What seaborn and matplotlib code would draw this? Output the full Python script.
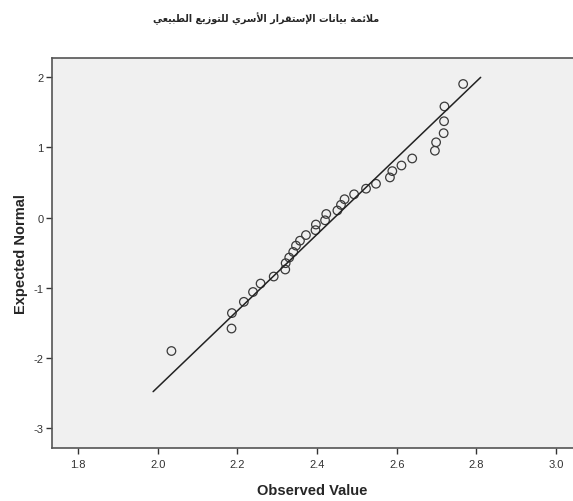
# Normal Q-Q plot - family stability data (SPSS style)

import numpy as np
import pandas as pd
import matplotlib
matplotlib.use('Agg')
import matplotlib.pyplot as plt
import seaborn as sns

# ------ DATA ------

title_text = 'ملائمة بيانات الإستقرار الأسري للتوزيع الطبيعي'

observed = [2.034, 2.185, 2.186, 2.216, 2.239, 2.258, 2.291, 2.320, 2.321,
            2.330, 2.340, 2.347, 2.357, 2.372, 2.396, 2.397, 2.420, 2.423,
            2.451, 2.460, 2.469, 2.493, 2.523, 2.548, 2.583, 2.589, 2.612,
            2.639, 2.696, 2.699, 2.718, 2.719, 2.720, 2.767]
expected = [-1.90, -1.58, -1.36, -1.20, -1.06, -0.94, -0.84, -0.74, -0.65,
            -0.57, -0.49, -0.40, -0.33, -0.25, -0.18, -0.10, -0.04, 0.05,
            0.10, 0.18, 0.26, 0.33, 0.41, 0.48, 0.57, 0.66, 0.74,
            0.84, 0.95, 1.07, 1.20, 1.37, 1.58, 1.90]

# reference line: normal with fitted mean / sd
line_mean = 2.444
line_sd = 0.184
line_x = [1.988, 2.811]

x_ticks = [1.8, 2.0, 2.2, 2.4, 2.6, 2.8, 3.0]
y_ticks = [-3, -2, -1, 0, 1, 2]


# ------ ARABIC SHAPING (matplotlib has no shaping / bidi) ------

FORMS = {
    'ا': (0xFE8D, 0xFE8E, None, None),
    'أ': (0xFE83, 0xFE84, None, None),
    'إ': (0xFE87, 0xFE88, None, None),
    'ب': (0xFE8F, 0xFE90, 0xFE91, 0xFE92),
    'ة': (0xFE93, 0xFE94, None, None),
    'ت': (0xFE95, 0xFE96, 0xFE97, 0xFE98),
    'ئ': (0xFE89, 0xFE8A, 0xFE8B, 0xFE8C),
    'ر': (0xFEAD, 0xFEAE, None, None),
    'ز': (0xFEAF, 0xFEB0, None, None),
    'س': (0xFEB1, 0xFEB2, 0xFEB3, 0xFEB4),
    'ط': (0xFEC1, 0xFEC2, 0xFEC3, 0xFEC4),
    'ع': (0xFEC9, 0xFECA, 0xFECB, 0xFECC),
    'ق': (0xFED5, 0xFED6, 0xFED7, 0xFED8),
    'ل': (0xFEDD, 0xFEDE, 0xFEDF, 0xFEE0),
    'م': (0xFEE1, 0xFEE2, 0xFEE3, 0xFEE4),
    'ن': (0xFEE5, 0xFEE6, 0xFEE7, 0xFEE8),
    'و': (0xFEED, 0xFEEE, None, None),
    'ي': (0xFEF1, 0xFEF2, 0xFEF3, 0xFEF4),
    'لا': (0xFEFB, 0xFEFC, None, None),
    'لأ': (0xFEF7, 0xFEF8, None, None),
    'لإ': (0xFEF9, 0xFEFA, None, None),
}


def shape_arabic(text):
    words = []
    for word in text.split(' '):
        units = []
        i = 0
        while i < len(word):
            if word[i] == 'ل' and i + 1 < len(word) and word[i:i + 2] in FORMS:
                units.append(word[i:i + 2])
                i += 2
            else:
                units.append(word[i])
                i += 1
        glyphs = []
        for k, u in enumerate(units):
            iso, fin, ini, med = FORMS[u]
            prev_j = k > 0 and FORMS[units[k - 1]][2] is not None
            next_j = k < len(units) - 1 and ini is not None
            if prev_j and next_j:
                g = med
            elif prev_j:
                g = fin
            elif next_j:
                g = ini
            else:
                g = iso
            glyphs.append(chr(g))
        words.append(''.join(reversed(glyphs)))
    return ' '.join(reversed(words))


# ------ PLOT ------

sns.set_style('ticks', {'axes.facecolor': '#F0F0F0'})
plt.rcParams['font.family'] = ['Liberation Sans', 'DejaVu Sans']

df = pd.DataFrame({'Observed Value': observed, 'Expected Normal': expected})
line_df = pd.DataFrame({'x': line_x})
line_df['y'] = (line_df['x'] - line_mean) / line_sd

fig = plt.figure(figsize=(5.73, 5.02), dpi=100)
ax = fig.add_axes([0.0908, 0.1056, 0.9092, 0.7769])

sns.lineplot(x='x', y='y', data=line_df, color='#222222', linewidth=1.1, ax=ax)
sns.scatterplot(x='Observed Value', y='Expected Normal', data=df, marker='o',
                s=38, facecolors='none', edgecolor='#3a3a3a', linewidth=0.9, ax=ax)

ax.set_xlim(1.734, 3.043)
ax.set_ylim(-3.28, 2.27)
ax.set_xticks(x_ticks)
ax.set_xticklabels([f'{v:.1f}' for v in x_ticks])
ax.set_yticks(y_ticks)
ax.set_yticklabels([str(v) for v in y_ticks])
ax.tick_params(axis='both', direction='out', length=4, width=1, color='#333333',
               labelsize=8, labelcolor='#333333', pad=2)
ax.tick_params(axis='x', pad=4)

for side in ['left', 'bottom', 'top']:
    ax.spines[side].set_color('#555555')
    ax.spines[side].set_linewidth(1.2)
ax.spines['right'].set_visible(False)

ax.set_xlabel('Observed Value', fontsize=10.5, fontweight='bold', labelpad=10)
ax.set_ylabel('Expected Normal', fontsize=10.5, fontweight='bold', labelpad=4)

fig.text(0.464, 0.962, shape_arabic(title_text), ha='center', va='center',
         fontsize=6.9, fontweight='bold', family=['DejaVu Sans'])

fig.savefig('out.png', dpi=100)
